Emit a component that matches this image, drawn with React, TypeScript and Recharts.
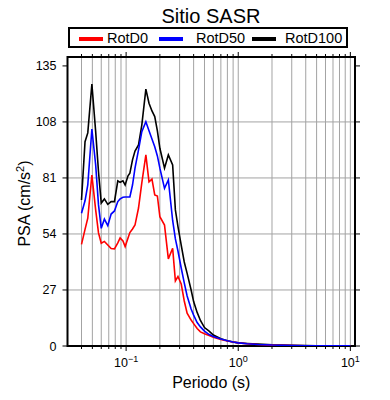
import React from "react";
import {
  LineChart,
  Line,
  XAxis,
  YAxis,
  CartesianGrid,
  ReferenceArea,
  Legend,
} from "recharts";

const PERIODS = [
  0.04, 0.043, 0.0455, 0.0495, 0.0535, 0.0567, 0.06, 0.064, 0.0686, 0.0735,
  0.0787, 0.0843, 0.0884, 0.0937, 0.098, 0.104, 0.108, 0.114, 0.12, 0.129,
  0.138, 0.15, 0.16, 0.17, 0.18, 0.19, 0.2, 0.22, 0.238, 0.26,
  0.275, 0.29, 0.31, 0.33, 0.35, 0.38, 0.4, 0.43, 0.46, 0.5,
  0.55, 0.6, 0.7, 0.8, 0.9, 1.0, 1.2, 1.5, 2, 3,
  4, 5, 7, 10,
];

const ROTD0 = [
  49.0, 56.2, 61.6, 82.4, 65.6, 54.5, 49.5, 50.4, 48.7, 47.0,
  46.8, 49.7, 52.1, 50.6, 47.9, 52.1, 54.7, 56.4, 58.3, 66.5,
  78.6, 92.1, 79.1, 80.4, 72.8, 72.3, 62.3, 58.3, 42.0, 47.1,
  31.4, 33.5, 29.9, 21.7, 15.8, 12.5, 10.8, 8.4, 6.8, 5.9,
  5.1, 4.2, 3.1, 2.4, 1.9, 1.5, 1.1, 0.7, 0.4, 0.2,
  0.15, 0.1, 0.07, 0.05,
];

const ROTD50 = [
  64.0, 70.0, 77.6, 104.6, 87.3, 68.0, 56.7, 61.2, 58.0, 63.6,
  65.1, 69.6, 70.9, 71.7, 71.8, 71.8, 71.8, 77.6, 85.7, 94.5,
  103.3, 108.1, 103.8, 99.8, 96.0, 91.6, 85.7, 76.0, 80.0, 60.5,
  51.6, 45.8, 37.6, 30.4, 24.1, 17.8, 14.9, 11.3, 9.2, 7.2,
  5.5, 4.6, 3.4, 2.5, 1.9, 1.5, 1.1, 0.75, 0.45, 0.25,
  0.15, 0.12, 0.08, 0.05,
];

const ROTD100 = [
  70.4, 98.5, 102.7, 126.2, 103.3, 84.0, 68.9, 70.9, 68.3, 69.6,
  69.6, 79.6, 78.9, 79.6, 77.6, 82.0, 83.3, 89.7, 94.0, 96.9,
  106.5, 123.8, 117.0, 113.3, 110.6, 103.7, 95.3, 85.7, 92.1, 87.3,
  65.6, 57.5, 48.6, 40.5, 35.0, 27.0, 21.4, 16.2, 12.3, 8.9,
  7.2, 5.3, 3.5, 2.5, 1.9, 1.5, 1.2, 0.9, 0.55, 0.3,
  0.2, 0.15, 0.1, 0.06,
];

const X_TICKS = [
  0.04, 0.05, 0.06, 0.07, 0.08, 0.09, 0.1,
  0.2, 0.3, 0.4, 0.5, 0.6, 0.7, 0.8, 0.9, 1,
  2, 3, 4, 5, 6, 7, 8, 9, 10,
];
const DECADE_LABELS: Record<string, string> = { "0.1": "\u22121", "1": "0", "10": "1" };
const Y_TICKS = [0, 27, 54, 81, 108, 135];
const Y_GRID = [27, 54, 81, 108];
const X_DOMAIN = [0.03, 11];
const Y_DOMAIN = [0, 139.3];

const SERIES = [
  { key: "rotd100", name: "RotD100", color: "#000000" },
  { key: "rotd0", name: "RotD0", color: "#ff0000" },
  { key: "rotd50", name: "RotD50", color: "#0000ff" },
];

const rows = PERIODS.map((p, i) => ({
  periodo: p,
  rotd0: ROTD0[i],
  rotd50: ROTD50[i],
  rotd100: ROTD100[i],
}));

const FONT = "'Liberation Sans', Arial, Helvetica, sans-serif";
const W = 390;
const H = 400;
const M = { top: 57, right: 35, bottom: 24, left: 0 };
const Y_AXIS_W = 67.5;
const X_AXIS_H = 30;
const PLOT_W = W - M.left - M.right - Y_AXIS_W;
const PLOT_H = H - M.top - M.bottom - X_AXIS_H;

function XTick(props: any) {
  const { x, y, payload } = props;
  const label = DECADE_LABELS[String(payload.value)];
  const len = label !== undefined ? 5 : 3;
  return (
    <g>
      <line x1={x} x2={x} y1={y} y2={y + len} stroke="#000" strokeWidth={1} />
      <line x1={x} x2={x} y1={y - PLOT_H} y2={y - PLOT_H - len} stroke="#000" strokeWidth={1} />
      {label !== undefined && (
        <text x={x} y={y + 21} textAnchor="middle" fontSize={12.5} fill="#000" fontFamily={FONT}>
          10
          <tspan dy={-5} fontSize={9}>{label}</tspan>
        </text>
      )}
    </g>
  );
}

function YTick(props: any) {
  const { x, y, payload } = props;
  return (
    <g>
      <line x1={x - 5} x2={x} y1={y} y2={y} stroke="#000" strokeWidth={1} />
      <line x1={x + PLOT_W} x2={x + PLOT_W + 5} y1={y} y2={y} stroke="#000" strokeWidth={1} />
      <text x={x - 11} y={y + 4.5} textAnchor="end" fontSize={12.5} fill="#000" fontFamily={FONT}>
        {payload.value}
      </text>
    </g>
  );
}

// posiciones de cada entrada dentro de la caja de leyenda
const LEGEND_POS = [
  { name: "RotD0", color: "#ff0000", swatch: 9, text: 37 },
  { name: "RotD50", color: "#0000ff", swatch: 89, text: 126 },
  { name: "RotD100", color: "#000000", swatch: 182, text: 215 },
];

function LegendBox() {
  return (
    <div
      style={{
        position: "relative",
        width: 280,
        height: 21,
        border: "2px solid #000",
        boxSizing: "border-box",
        background: "#fff",
        fontFamily: FONT,
      }}
    >
      {LEGEND_POS.map((d) => (
        <React.Fragment key={d.name}>
          <div
            style={{
              position: "absolute",
              left: d.swatch,
              top: 7.5,
              width: 24,
              height: 4,
              background: d.color,
            }}
          />
          <div
            style={{
              position: "absolute",
              left: d.text,
              top: 1,
              fontSize: 14.5,
              lineHeight: "16px",
              color: "#000",
              whiteSpace: "nowrap",
            }}
          >
            {d.name}
          </div>
        </React.Fragment>
      ))}
    </div>
  );
}

export default function App() {
  return (
    <div style={{ position: "absolute", left: 0, top: 0, width: W, height: H, background: "#fff" }}>
      <LineChart width={W} height={H} data={rows} margin={M}>
        <CartesianGrid
          stroke="#a3a3a3"
          strokeWidth={1}
          horizontalValues={Y_GRID}
        />
        <XAxis
          dataKey="periodo"
          type="number"
          scale="log"
          domain={X_DOMAIN}
          allowDataOverflow
          ticks={X_TICKS}
          interval={0}
          tick={(p: any) => <XTick {...p} />}
          tickLine={false}
          axisLine={false}
          tickSize={0}
          tickMargin={0}
          height={X_AXIS_H}
          label={{
            content: (p: any) => {
              const vb = p.viewBox;
              return (
                <text
                  x={vb.x + vb.width / 2}
                  y={vb.y + 42}
                  textAnchor="middle"
                  fontSize={16}
                  fill="#000"
                  fontFamily={FONT}
                >
                  Periodo (s)
                </text>
              );
            },
          }}
        />
        <YAxis
          type="number"
          domain={Y_DOMAIN}
          allowDataOverflow
          ticks={Y_TICKS}
          interval={0}
          tick={(p: any) => <YTick {...p} />}
          tickLine={false}
          axisLine={false}
          tickSize={0}
          tickMargin={0}
          width={Y_AXIS_W}
          label={{
            content: (p: any) => {
              const vb = p.viewBox;
              const cx = 30;
              const cy = vb.y + vb.height / 2 + 2;
              return (
                <text
                  x={cx}
                  y={cy}
                  transform={`rotate(-90, ${cx}, ${cy})`}
                  textAnchor="middle"
                  fontSize={16}
                  fill="#000"
                  fontFamily={FONT}
                >
                  PSA (cm/s
                  <tspan dy={-6} fontSize={11}>2</tspan>
                  <tspan dy={6}>)</tspan>
                </text>
              );
            },
          }}
        />
        {SERIES.map((s) => (
          <Line
            key={s.key}
            type="linear"
            dataKey={s.key}
            name={s.name}
            stroke={s.color}
            strokeWidth={1.6}
            dot={false}
            activeDot={false}
            isAnimationActive={false}
          />
        ))}
        <ReferenceArea
          x1={X_DOMAIN[0]}
          x2={X_DOMAIN[1]}
          y1={Y_DOMAIN[0]}
          y2={Y_DOMAIN[1]}
          fill="none"
          fillOpacity={0}
          stroke="#000"
          strokeWidth={2}
          ifOverflow="visible"
        />
        <Legend
          verticalAlign="middle"
          align="center"
          content={() => <LegendBox />}
          wrapperStyle={{ left: 68, top: 27, width: 280, height: 21, margin: 0 }}
        />
      </LineChart>
      <div
        style={{
          position: "absolute",
          left: 111,
          top: 4,
          width: 200,
          textAlign: "center",
          fontFamily: FONT,
          fontSize: 20,
          lineHeight: "24px",
          color: "#000",
        }}
      >
        Sitio SASR
      </div>
    </div>
  );
}
